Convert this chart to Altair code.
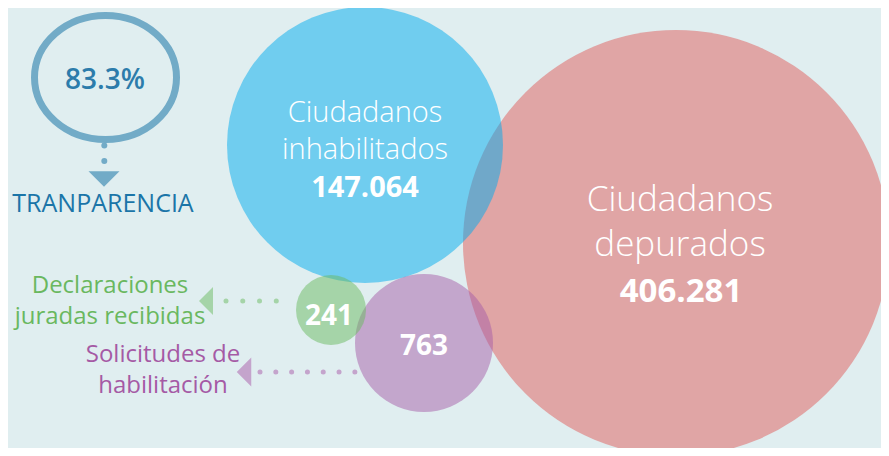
import altair as alt
import pandas as pd

# ---------------- data ----------------
bubble_labels = [["Ciudadanos", "depurados"], ["Ciudadanos", "inhabilitados"], [], []]
bubble_values = ["406.281", "147.064", "763", "241"]
side_labels = [["Declaraciones", "juradas recibidas"], ["Solicitudes de", "habilitación"]]
kpi_value = "83.3%"
kpi_label = "TRANPARENCIA"

# ---------------- layout (reference pixel space) ----------------
W, H = 889, 456
bubble_cx = [676, 365, 424, 331]
bubble_cy = [243, 145, 343, 310]
bubble_r = [213, 138, 69, 35]
bubble_col = ["#e05c5a", "#00abee", "#a55da7", "#6aba60"]
label_line_y = [[211, 256], [122, 159], [], []]
value_y = [302, 197, 355, 325]
label_size = [35, 29, 0, 0]
value_size = [33, 29, 28, 28]

xs = alt.Scale(domain=[8, W - 8], range=[0, W - 16])
ys = alt.Scale(domain=[8, H - 8], range=[0, H - 16])
X = lambda f="x": alt.X(f"{f}:Q", scale=xs, axis=None)
Y = lambda f="y": alt.Y(f"{f}:Q", scale=ys, axis=None)
FONT = "Open Sans"

layers = []

# bubbles, one layer each to keep drawing order
for i in range(4):
    d = pd.DataFrame({"x": [bubble_cx[i]], "y": [bubble_cy[i]],
                      "s": [(2 * bubble_r[i]) ** 2], "name": [bubble_values[i]]})
    layers.append(
        alt.Chart(d).mark_point(shape="circle", filled=True, color=bubble_col[i],
                                opacity=0.5, strokeWidth=0, clip=True)
        .encode(x=X(), y=Y(), size=alt.Size("s:Q", scale=None))
    )

# light label lines inside bubbles
rows = []
for i in range(4):
    for t, yy in zip(bubble_labels[i], label_line_y[i]):
        rows.append({"t": t, "x": bubble_cx[i] + (4 if i == 0 else 0), "y": yy, "fs": label_size[i]})
lab = pd.DataFrame(rows)
layers.append(
    alt.Chart(lab).mark_text(font=FONT, fontWeight=300, color="white", align="center",
                             baseline="alphabetic")
    .encode(x=X(), y=Y(), text="t:N", size=alt.Size("fs:Q", scale=None))
)
# bold values
vals = pd.DataFrame({"t": bubble_values,
                     "x": [681, 365, 424, 329], "y": value_y, "fs": value_size})
layers.append(
    alt.Chart(vals).mark_text(font=FONT, fontWeight=700, color="white", align="center",
                              baseline="alphabetic")
    .encode(x=X(), y=Y(), text="t:N", size=alt.Size("fs:Q", scale=None))
)

# KPI ring (ellipse via custom path)
ellipse = ("M 1 0 C 1 0.482 0.552 0.873 0 0.873 C -0.552 0.873 -1 0.482 -1 0 "
           "C -1 -0.482 -0.552 -0.873 0 -0.873 C 0.552 -0.873 1 -0.482 1 0 Z")
ring = pd.DataFrame({"x": [105.5], "y": [77.5], "s": [(2 * 71) ** 2]})
layers.append(
    alt.Chart(ring).mark_point(shape=ellipse, filled=False, color="#72abc7", strokeWidth=7,
                               opacity=1)
    .encode(x=X(), y=Y(), size=alt.Size("s:Q", scale=None))
)
kpi = pd.DataFrame({"t": [kpi_value], "x": [105], "y": [89]})
layers.append(
    alt.Chart(kpi).mark_text(font=FONT, fontSize=28, fontWeight=600, color="#2c7cab",
                             align="center", baseline="alphabetic")
    .encode(x=X(), y=Y(), text="t:N")
)
kpil = pd.DataFrame({"t": [kpi_label], "x": [103], "y": [212]})
layers.append(
    alt.Chart(kpil).mark_text(font=FONT, fontSize=25, color="#1b75a8", align="center",
                              baseline="alphabetic")
    .encode(x=X(), y=Y(), text="t:N")
)
# connector dots + triangle under the ring
kdots = pd.DataFrame({"x": [104.3, 104.3], "y": [145.5, 161]})
layers.append(
    alt.Chart(kdots).mark_point(shape="circle", filled=True, color="#72abc7", opacity=1, size=36)
    .encode(x=X(), y=Y())
)
tri_down = "M -1 -0.5 L 1 -0.5 L 0 0.5 Z"
tri_left = "M 0.5 -1 L -0.5 0 L 0.5 1 Z"
kt = pd.DataFrame({"x": [104], "y": [179], "s": [31 ** 2]})
layers.append(
    alt.Chart(kt).mark_point(shape=tri_down, filled=True, color="#72abc7", opacity=1, strokeWidth=0)
    .encode(x=X(), y=Y(), size=alt.Size("s:Q", scale=None))
)

# side labels with dotted leaders and arrow heads
side_col = ["#6ab85f", "#a55aa5"]
side_light = ["#a5d4a8", "#c4a4cc"]
side_x = [110, 163]
side_y = [[293, 324], [362, 393]]
lead_x = [[226, 293], [260, 355]]
lead_y = [301, 372]
lead_gap = [16.75, 15.8]
tri_pos = [(206, 301), (244, 372)]
tri_h = [28, 29]
for k in range(2):
    sl = pd.DataFrame({"t": side_labels[k], "x": [side_x[k]] * 2, "y": side_y[k]})
    layers.append(
        alt.Chart(sl).mark_text(font=FONT, fontSize=24, color=side_col[k], align="center",
                                baseline="alphabetic")
        .encode(x=X(), y=Y(), text="t:N")
    )
    ld = pd.DataFrame({"x": [lead_x[k][0]], "x2": [lead_x[k][1]], "y": [lead_y[k]]})
    layers.append(
        alt.Chart(ld).mark_rule(color=side_light[k], strokeWidth=5, strokeCap="round",
                                strokeDash=[0.01, lead_gap[k]])
        .encode(x=X(), x2="x2:Q", y=Y())
    )
    tr = pd.DataFrame({"x": [tri_pos[k][0]], "y": [tri_pos[k][1]], "s": [tri_h[k] ** 2]})
    layers.append(
        alt.Chart(tr).mark_point(shape=tri_left, filled=True, color=side_light[k], opacity=1,
                                 strokeWidth=0)
        .encode(x=X(), y=Y(), size=alt.Size("s:Q", scale=None))
    )

chart = alt.layer(*layers).properties(
    width=W - 16, height=H - 16, padding=0,
    autosize=alt.AutoSizeParams(type="none"),
    background="#e0eef0",
).configure_view(stroke=None)

chart.save("out.html", embed_options={"renderer": "svg", "actions": False})
